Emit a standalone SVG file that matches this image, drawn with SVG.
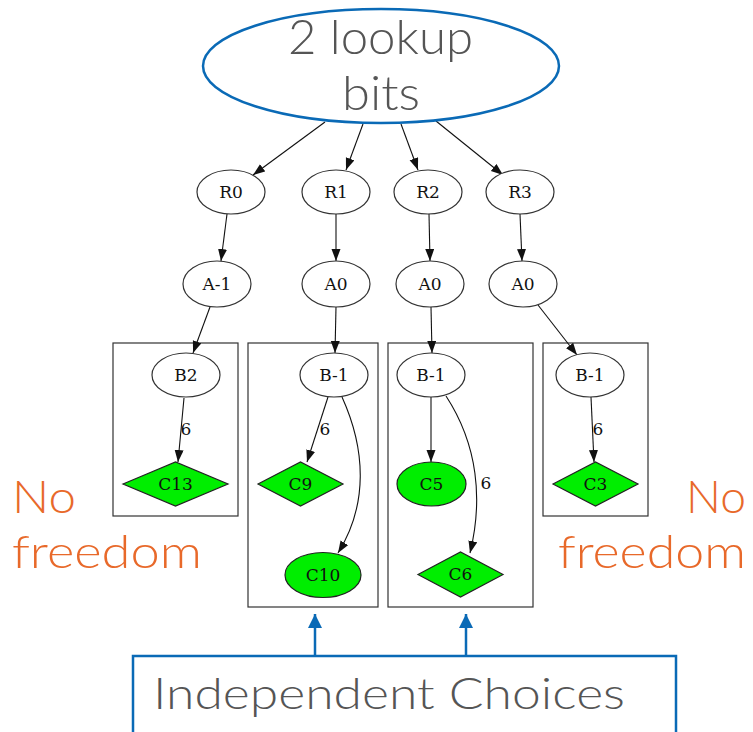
<svg xmlns="http://www.w3.org/2000/svg" width="753" height="732" viewBox="0 0 753 732">
<style>
.n{fill:#fff;stroke:#333;stroke-width:1.2}
.g{fill:#00ee00;stroke:#222;stroke-width:1.2}
.cl{fill:none;stroke:#333;stroke-width:1.2}
.t{font-family:"DejaVu Serif",serif;font-size:17px;fill:#111;text-anchor:middle}
.e{fill:none;stroke:#111;stroke-width:1.1}
.big{font-family:Lato,"Open Sans",sans-serif;font-weight:300;fill:#555}
.or{font-family:Lato,"Open Sans",sans-serif;font-weight:300;fill:#e8692a;font-size:46px}
.blue{fill:none;stroke:#0a6ab6;stroke-width:2.5}
</style>
<defs>
<marker id="ah" markerUnits="userSpaceOnUse" markerWidth="13" markerHeight="10" refX="12" refY="4.5" orient="auto">
<path d="M0,0 L12,4.5 L0,9 z" fill="#111"/>
</marker>
<marker id="bh" markerUnits="userSpaceOnUse" markerWidth="16" markerHeight="16" refX="14" refY="7" orient="auto">
<path d="M0,0 L14,7 L0,14 z" fill="#0a6ab6"/>
</marker>
</defs>

<g id="clusters">
<rect class="cl" x="113" y="343" width="125" height="173"/>
<rect class="cl" x="248" y="343" width="130" height="264"/>
<rect class="cl" x="388" y="343" width="145" height="264"/>
<rect class="cl" x="543" y="343" width="105" height="173"/>
</g>

<g id="connectors">
<line class="e" x1="325" y1="122" x2="253" y2="175" marker-end="url(#ah)"/>
<line class="e" x1="363" y1="124" x2="346" y2="170" marker-end="url(#ah)"/>
<line class="e" x1="401" y1="124" x2="418" y2="170" marker-end="url(#ah)"/>
<line class="e" x1="436" y1="121" x2="503" y2="175" marker-end="url(#ah)"/>
<line class="e" x1="227" y1="214" x2="221" y2="261" marker-end="url(#ah)"/>
<line class="e" x1="336" y1="214" x2="336" y2="261" marker-end="url(#ah)"/>
<line class="e" x1="429" y1="214" x2="430" y2="261" marker-end="url(#ah)"/>
<line class="e" x1="520" y1="214" x2="522" y2="261" marker-end="url(#ah)"/>
<line class="e" x1="210" y1="307" x2="193" y2="353" marker-end="url(#ah)"/>
<line class="e" x1="336" y1="307" x2="335" y2="353" marker-end="url(#ah)"/>
<line class="e" x1="431" y1="307" x2="432" y2="353" marker-end="url(#ah)"/>
<line class="e" x1="538" y1="305" x2="577" y2="355" marker-end="url(#ah)"/>
<line class="e" x1="184" y1="398" x2="178" y2="462" marker-end="url(#ah)"/>
<line class="e" x1="328" y1="397" x2="307" y2="462" marker-end="url(#ah)"/>
<path class="e" d="M342,397 C366,450 368,505 338,553" marker-end="url(#ah)"/>
<line class="e" x1="431" y1="397" x2="431" y2="462" marker-end="url(#ah)"/>
<path class="e" d="M446,396 C478,445 483,500 470,553" marker-end="url(#ah)"/>
<line class="e" x1="591" y1="397" x2="594" y2="462" marker-end="url(#ah)"/>
<text class="t" x="186" y="435">6</text>
<text class="t" x="325" y="435">6</text>
<text class="t" x="486" y="489">6</text>
<text class="t" x="598" y="435">6</text>
<line class="blue" x1="315" y1="656" x2="315" y2="614" stroke-width="3.5" marker-end="url(#bh)"/>
<line class="blue" x1="466" y1="656" x2="466" y2="614" stroke-width="3.5" marker-end="url(#bh)"/>
</g>

<g id="top">
<ellipse class="blue" cx="381" cy="66" rx="178" ry="57"/>
<text class="big" x="288" y="54" font-size="47" textLength="185" lengthAdjust="spacingAndGlyphs">2 lookup</text>
<text class="big" x="342" y="110" font-size="47" textLength="78" lengthAdjust="spacingAndGlyphs">bits</text>
</g>

<g id="R0"><ellipse class="n" cx="231" cy="192" rx="34" ry="22"/><text class="t" x="231" y="198">R0</text></g>
<g id="R1"><ellipse class="n" cx="336" cy="192" rx="34" ry="22"/><text class="t" x="336" y="198">R1</text></g>
<g id="R2"><ellipse class="n" cx="428" cy="192" rx="34" ry="22"/><text class="t" x="428" y="198">R2</text></g>
<g id="R3"><ellipse class="n" cx="520" cy="192" rx="34" ry="22"/><text class="t" x="520" y="198">R3</text></g>

<g id="A-1"><ellipse class="n" cx="217" cy="284" rx="34" ry="23"/><text class="t" x="217" y="290">A-1</text></g>
<g id="A0a"><ellipse class="n" cx="336" cy="284" rx="34" ry="23"/><text class="t" x="336" y="290">A0</text></g>
<g id="A0b"><ellipse class="n" cx="430" cy="284" rx="34" ry="23"/><text class="t" x="430" y="290">A0</text></g>
<g id="A0c"><ellipse class="n" cx="523" cy="284" rx="34" ry="23"/><text class="t" x="523" y="290">A0</text></g>

<g id="B2"><ellipse class="n" cx="186" cy="375" rx="34" ry="22"/><text class="t" x="186" y="381">B2</text></g>
<g id="B-1a"><ellipse class="n" cx="334" cy="375" rx="34" ry="22"/><text class="t" x="334" y="381">B-1</text></g>
<g id="B-1b"><ellipse class="n" cx="431" cy="375" rx="34" ry="22"/><text class="t" x="431" y="381">B-1</text></g>
<g id="B-1c"><ellipse class="n" cx="590" cy="375" rx="34" ry="22"/><text class="t" x="590" y="381">B-1</text></g>

<g id="C13"><polygon class="g" points="123,484 175.5,462 228,484 175.5,506"/><text class="t" x="175.5" y="490">C13</text></g>
<g id="C9"><polygon class="g" points="258,484 300.5,462 343,484 300.5,506"/><text class="t" x="300.5" y="490">C9</text></g>
<g id="C10"><ellipse class="g" cx="323" cy="575" rx="38" ry="22.5"/><text class="t" x="323" y="581">C10</text></g>
<g id="C5"><ellipse class="g" cx="431.5" cy="484" rx="34.5" ry="22"/><text class="t" x="431.5" y="490">C5</text></g>
<g id="C6"><polygon class="g" points="418,574.5 460.5,552 503,574.5 460.5,597"/><text class="t" x="460.5" y="580">C6</text></g>
<g id="C3"><polygon class="g" points="553,484 595.5,462 638,484 595.5,506"/><text class="t" x="595.5" y="490">C3</text></g>

<g id="nofree-left">
<text class="or" x="12" y="513" textLength="64" lengthAdjust="spacingAndGlyphs">No</text>
<text class="or" x="12" y="568" textLength="190" lengthAdjust="spacingAndGlyphs">freedom</text>
</g>
<g id="nofree-right">
<text class="or" x="686" y="513" textLength="60" lengthAdjust="spacingAndGlyphs">No</text>
<text class="or" x="558" y="568" textLength="188" lengthAdjust="spacingAndGlyphs">freedom</text>
</g>

<g id="choices">
<rect class="blue" x="133" y="656" width="543" height="90"/>
<text class="big" x="153" y="709" font-size="44" textLength="472" lengthAdjust="spacingAndGlyphs">Independent Choices</text>
</g>
</svg>
